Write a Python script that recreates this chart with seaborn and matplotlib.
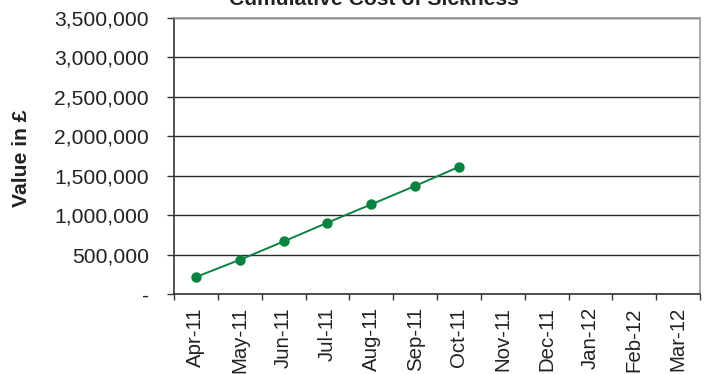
import matplotlib
matplotlib.use("Agg")
import matplotlib.pyplot as plt
import seaborn as sns
import pandas as pd
from matplotlib.ticker import FuncFormatter, FixedLocator

# Monthly labels for the financial year
months = ["Apr-11", "May-11", "Jun-11", "Jul-11", "Aug-11", "Sep-11",
          "Oct-11", "Nov-11", "Dec-11", "Jan-12", "Feb-12", "Mar-12"]
# Cumulative cost (GBP) recorded so far
cumulative_cost = [216000, 433000, 666000, 904000, 1137000, 1370000, 1612000]
y_ticks = [0, 500000, 1000000, 1500000, 2000000, 2500000, 3000000, 3500000]

sns.set_theme(style="white")
plt.rcParams["font.family"] = ["Liberation Sans", "DejaVu Sans"]

FS = 15.2

df = pd.DataFrame({"pos": range(len(cumulative_cost)), "cost": cumulative_cost})

fig = plt.figure(figsize=(7.09, 3.74), dpi=100)
ax = fig.add_axes([174 / 709, 1 - 294 / 374, (700 - 174) / 709, (294 - 18) / 374])

sns.lineplot(data=df, x="pos", y="cost", ax=ax, color="#0A8340",
             linewidth=1.4, marker="o", markersize=7.5, markeredgewidth=0)

ax.set_xlim(-0.5, len(months) - 0.5)
ax.set_ylim(0, 3500000)
ax.set_yticks(y_ticks)
ax.yaxis.set_major_formatter(FuncFormatter(lambda v, p: "-" if v == 0 else f"{int(v):,}"))
ax.set_xticks(range(len(months)))
ax.set_xticklabels(months, rotation=90)
ax.xaxis.set_minor_locator(FixedLocator([i - 0.5 for i in range(len(months) + 1)]))

ax.grid(axis="y", color="#2b2b2b", linewidth=1.0)
ax.set_axisbelow(True)

ax.tick_params(axis="y", which="major", left=True, length=5, width=1, color="#333333",
               pad=13, labelsize=FS, labelcolor="#222222")
ax.tick_params(axis="x", which="major", bottom=False, pad=3.5, labelsize=14.7, labelcolor="#222222")
ax.tick_params(axis="x", which="minor", bottom=True, length=4, width=1, color="#333333")

for side in ("top", "right"):
    ax.spines[side].set_color("#999999")
    ax.spines[side].set_linewidth(1.2)
for side in ("left", "bottom"):
    ax.spines[side].set_color("#333333")
    ax.spines[side].set_linewidth(1.2)

ax.set_xlabel("")
ax.set_ylabel("")
fig.text(22 / 709, 1 - 158 / 374, "Value in £", rotation=90, ha="center", va="center",
         fontsize=FS, fontweight="bold", color="#222222")
fig.text(374 / 709, 1 - 5 / 374, "Cumulative Cost of Sickness", ha="center", va="baseline",
         fontsize=FS, fontweight="bold", color="#222222")

fig.savefig("out.png", dpi=100)
